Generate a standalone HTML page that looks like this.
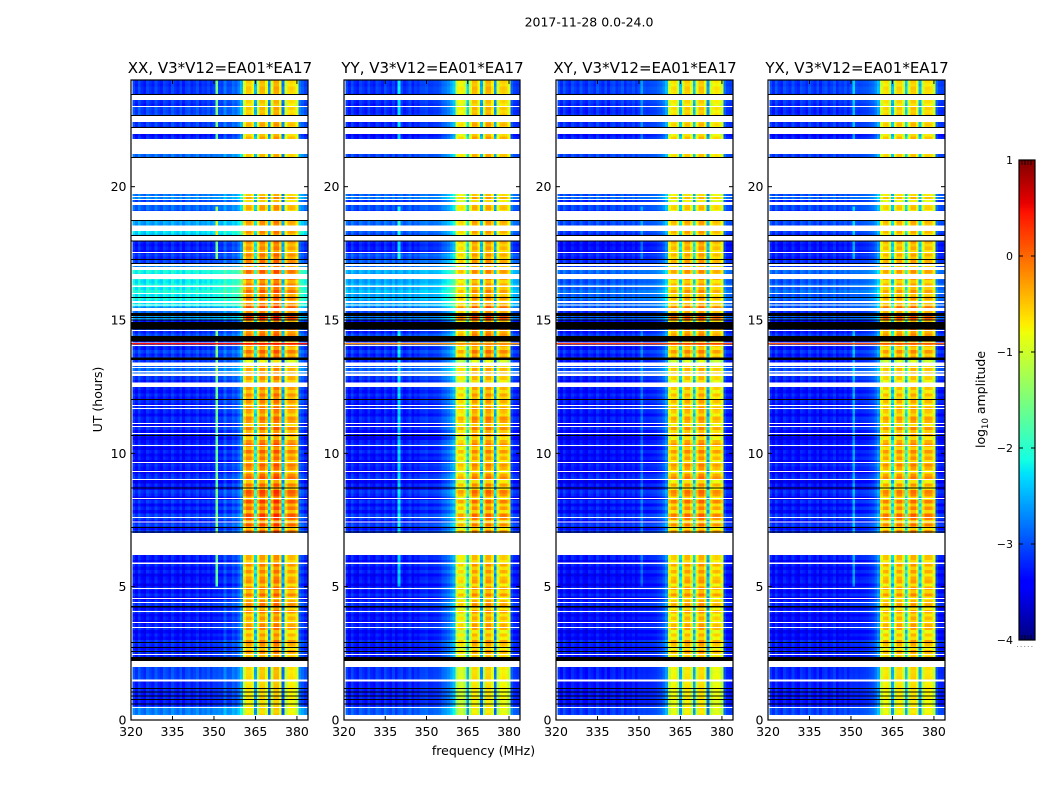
<!DOCTYPE html>
<html lang="en">
<head>
<meta charset="utf-8">
<title>2017-11-28 0.0-24.0</title>
<style>
html,body{margin:0;padding:0;background:#fff;}
svg{display:block;}
text{font-family:"DejaVu Sans","Liberation Sans",sans-serif;fill:#000;}
</style>
</head>
<body>
<svg id="fig" xmlns="http://www.w3.org/2000/svg" width="1050" height="800" viewBox="0 0 1050 800">
  <text x="589" y="26.5" font-size="12.5" text-anchor="middle">2017-11-28 0.0-24.0</text>
  <text x="483.5" y="755" font-size="12.5" text-anchor="middle">frequency (MHz)</text>
  <text transform="translate(102,399.5) rotate(-90)" font-size="12.5" text-anchor="middle">UT (hours)</text>
  <text transform="translate(985,399.5) rotate(-90)" font-size="12.5" text-anchor="middle">log<tspan dy="3" font-size="8.5">10</tspan><tspan dy="-3"> amplitude</tspan></text>
  <g id="panels"></g>
  <g id="colorbar"></g>
  <line x1="1017" y1="646.5" x2="1035" y2="646.5" stroke="#888" stroke-width="1" stroke-dasharray="1 2.6"/>
</svg>
<script>
// ---- Axis data ----
const panelTitles = ["XX, V3*V12=EA01*EA17","YY, V3*V12=EA01*EA17","XY, V3*V12=EA01*EA17","YX, V3*V12=EA01*EA17"];
const xTicks = [320,335,350,365,380];
const yTicks = [0,5,10,15,20];
const colorTicks = [1,0,-1,-2,-3,-4];
const freqRange = [320,384];
const hourRange = [0,24];
const colorRange = [-4,1];
const firstBinMHz = 320.5;
const binCount = 64;
const rowsPerHour = 8;
const levelsPerHour = 2;
const passbandBins = [40,59];
const bandStripeGain = 1.6;
const offBandStripeGain = 0.9;

// ---- Level away from the passband, per half hour from 0 UT (log10 amplitude) ----
const offBandXX = [-2.75,-3.25,-3.2,-3.05,-3.2,-3.25,-3.3,-3.3,-3.25,-3.3,-3.35,-3.3,-3.25,-3.25,-3.2,-3.25,-3.3,-3.3,-3.3,-3.35,-3.35,-3.3,-3.3,-3.25,-3.25,-3.15,-2.95,-3.15,-3.1,-3.15,-2.75,-2.2,-2.15,-2.2,-3.15,-3.25,-2.35,-2.65,-2.95,-2.75,-3.25,-3.25,-2.85,-3.25,-3.15,-3.05,-3.15,-3.15];
const offBandYY = [-2.95,-3.25,-3.25,-3.15,-3.25,-3.3,-3.3,-3.3,-3.25,-3.3,-3.35,-3.3,-3.25,-3.25,-3.2,-3.25,-3.3,-3.3,-3.3,-3.35,-3.3,-3.35,-3.3,-3.3,-3.25,-3.15,-3.0,-3.2,-3.1,-3.2,-2.95,-2.55,-2.5,-2.6,-3.0,-3.25,-3.0,-2.95,-3.05,-2.85,-3.25,-3.25,-3.05,-3.3,-3.25,-3.2,-3.2,-3.15];
const offBandXY = [-3.1,-3.3,-3.3,-3.25,-3.3,-3.3,-3.35,-3.35,-3.3,-3.35,-3.4,-3.35,-3.25,-3.25,-3.25,-3.3,-3.35,-3.35,-3.35,-3.4,-3.4,-3.35,-3.35,-3.3,-3.3,-3.25,-3.1,-3.25,-3.2,-3.25,-3.1,-2.9,-2.9,-2.95,-3.25,-3.35,-3.15,-3.1,-3.1,-2.95,-3.25,-3.25,-3.05,-3.25,-3.2,-3.2,-3.15,-3.1];
const offBandYX = [-3.05,-3.3,-3.25,-3.2,-3.3,-3.3,-3.35,-3.35,-3.3,-3.35,-3.35,-3.35,-3.25,-3.25,-3.25,-3.3,-3.35,-3.35,-3.35,-3.35,-3.4,-3.35,-3.35,-3.3,-3.3,-3.2,-3.1,-3.25,-3.2,-3.25,-3.1,-2.95,-2.9,-2.95,-3.25,-3.3,-3.15,-3.1,-3.1,-2.95,-3.25,-3.25,-3.1,-3.3,-3.2,-3.2,-3.15,-3.1];

// ---- Passband level, per half hour from 0 UT ----
const bandXX = [-.75,-.75,-.7,-.65,-.5,-.45,-.45,-.45,-.4,-.4,-.4,-.4,-.4,-.4,-.25,-.2,-.2,-.25,-.3,-.35,-.3,-.35,-.4,-.4,-.35,-.4,-.55,-.3,-.3,-.2,-.05,-.25,-.2,-.2,-.3,-.35,-.4,-.45,-.5,-.5,-.6,-.6,-.55,-.5,-.55,-.6,-.65,-.6];
const bandYY = [-.9,-.9,-.85,-.8,-.65,-.65,-.65,-.6,-.6,-.6,-.6,-.6,-.6,-.6,-.55,-.5,-.5,-.5,-.55,-.6,-.55,-.5,-.5,-.6,-.55,-.65,-.7,-.45,-.45,-.35,-.25,-.5,-.5,-.5,-.55,-.55,-.6,-.6,-.65,-.6,-.6,-.6,-.55,-.55,-.6,-.65,-.7,-.65];
const bandXY = [-.8,-.8,-.75,-.75,-.6,-.55,-.55,-.55,-.55,-.5,-.5,-.5,-.5,-.5,-.45,-.4,-.4,-.45,-.45,-.5,-.45,-.5,-.55,-.55,-.55,-.6,-.65,-.45,-.45,-.35,-.25,-.5,-.45,-.45,-.5,-.45,-.5,-.55,-.65,-.65,-.6,-.6,-.6,-.6,-.65,-.65,-.7,-.65];
const bandYX = [-.8,-.8,-.75,-.7,-.6,-.6,-.6,-.55,-.6,-.55,-.55,-.55,-.5,-.5,-.45,-.4,-.45,-.5,-.5,-.5,-.5,-.5,-.55,-.6,-.6,-.65,-.7,-.5,-.45,-.35,-.25,-.5,-.5,-.5,-.55,-.55,-.6,-.6,-.7,-.65,-.6,-.6,-.6,-.6,-.65,-.65,-.7,-.7];

// ---- Relative spectral shape per frequency bin ----
const shapeXX = [.1,-.1,.15,-.05,-.15,.1,0,-.1,.12,-.05,-.12,.1,.02,-.1,.14,0,-.1,.1,-.14,.04,.1,-.08,0,.14,-.1,.05,-.02,.1,-.06,.08,.05,.1,.05,.35,.1,.12,.3,.2,.4,.65,
  -.3,.05,.05,-.25,-1.9,-.4,.15,.15,-.25,-2.1,-.35,.25,.25,-.2,-2.2,-.4,-.05,0,-.05,-.35,.35,.2,.05,.1];
const shapeYY = [.1,-.1,.15,-.05,-.15,.1,0,-.1,.12,-.05,-.12,.1,.02,-.1,.14,0,-.1,.1,-.14,.04,.1,-.08,0,.14,-.1,.05,-.02,.1,.1,.15,.05,.05,.1,.1,.15,.3,.35,.45,.6,.8,
  -.4,-.15,-.1,-.4,-1.7,-.3,.2,.2,-.2,-1.9,-.3,.25,.25,-.1,-2.0,-.35,.05,.1,.05,-.3,.25,.05,0,.05];
const shapeXY = [.1,-.1,.15,-.05,-.15,.1,0,-.1,.12,-.05,-.12,.1,.02,-.1,.14,0,-.1,.1,-.14,.04,.1,-.08,0,.14,-.1,.05,-.02,.1,-.06,.08,.05,.08,.05,.08,.1,.12,.18,.25,.4,.65,
  -.35,-.05,0,-.35,-1.8,-.35,.1,.1,-.25,-1.8,-.3,.15,.15,-.2,-2.0,-.4,-.1,-.05,-.1,-.4,.25,.05,0,.05];
const shapeYX = [.1,-.1,.15,-.05,-.15,.1,0,-.1,.12,-.05,-.12,.1,.02,-.1,.14,0,-.1,.1,-.14,.04,.1,-.08,0,.14,-.1,.05,-.02,.1,-.06,.08,.05,.08,.05,.08,.1,.12,.18,.25,.4,.65,
  -.35,0,.05,-.35,-1.8,-.35,.1,.1,-.25,-1.7,-.3,.15,.15,-.2,-1.8,-.35,.05,.05,0,-.35,.25,.05,0,.05];

// ---- Row-to-row amplitude stripes, eight rows per hour from 0 UT ----
const rowStripes = [
  0,.03,-.03,.02,0,-.02,.03,0,-.02,.02,0,-.03,.02,0,-.02,.02,
  .05,-.1,.1,-.05,.12,-.12,.08,.15,-.1,.05,-.15,.12,.1,-.08,.05,-.1,
  .12,-.1,.15,.05,-.12,.18,-.05,.12,-.15,.1,.05,-.12,.1,-.08,.12,-.1,
  0,0,0,0,0,0,0,0,.1,-.15,.2,-.1,.15,.22,-.15,.1,
  -.1,.2,-.15,.12,.22,-.12,.1,-.18,.2,.1,-.15,.05,.18,-.12,.1,-.05,
  .15,-.1,.18,.05,-.15,.12,-.05,.15,-.12,.08,.15,-.1,.05,.12,-.08,.1,
  -.05,.1,-.1,.05,.08,-.1,.05,0,.1,.12,-.1,-.2,.1,-.05,.15,-.1,
  .1,-.12,.05,.1,-.05,.12,.15,-.1,.2,.15,-.1,.12,.05,-.08,.1,-.05,
  .1,-.05,.05,-.1,.08,-.05,.1,.05,-.1,.1,-.05,.08,-.1,.05,-.05,.08,
  .1,-.05,.08,-.1,.05,.1,-.1,.05,-.05,.08,.05,-.1,.08,-.05,.05,.1,
  0,0,0,0,0,0,0,0,0,0,.05,-.05,.08,-.05,.05,-.08,
  .05,-.05,.08,.02,-.05,.05,-.02,.05,-.05,.03,.05,-.03,.02,.05,-.03,.02
];

// ---- Narrow interference lines: bins, gains per panel, and hours they are present ----
const lineBinsXX = [30];
const lineGainsXX = [1.6];
const lineBinsYY = [19];
const lineGainsYY = [.9];
const lineBinsXY = [30];
const lineGainsXY = [.45];
const lineBinsYX = [30];
const lineGainsYX = [.7];
const lineHours = [[4.9,6.2],[7,14.6],[17.2,19.2],[21.5,24]];

// ---- Flagged time ranges (UT hours) ----
const whiteGaps = [[23.25,23.44],[22.99,23.025],[22.425,22.65],[21.975,22.2],[21.225,21.79],[19.725,21.075],[19.61,19.65],[19.5,19.54],[19.31,19.425],[18.75,19.09],[18.34,18.54],[17.98,18.15],[17.51,17.55],[17.025,17.1],[16.875,16.99],[16.54,16.725],[16.24,16.29],[15.975,16.01],[15.64,15.71],[15.54,15.58],[15.34,15.45],[14.59,14.625],[14.13,14.15],[14.04,14.06],[13.275,13.41],[13.2,13.24],[13.03,13.09],[12.9,12.99],[12.48,12.65],[11.78,11.81],[11.66,11.7],[11.1,11.14],[10.99,11.03],[10.73,10.76],[10.28,10.31],[9.64,9.68],[9.3,9.34],[9.0,9.04],[8.29,8.33],[7.58,7.61],[7.41,7.44],[6.19,7.01],[5.85,5.91],[4.91,4.95],[4.54,4.58],[4.39,4.43],[4.05,4.09],[3.64,3.68],[3.45,3.49],[2.44,2.48],[1.99,2.21],[1.44,1.52],[.45,.49],[0,.19]];
const blackLines = [[23.44,23.475],[22.65,22.69],[22.2,22.24],[21.075,21.11],[18.71,18.75],[18.15,18.19],[17.94,17.98],[17.25,17.29],[17.1,17.14],[15.83,15.86],[15.15,15.26],[15.08,15.11],[14.98,15.02],[14.89,14.93],[14.64,14.89],[14.19,14.4],[13.5,13.59],[12.0,12.04],[10.65,10.69],[8.68,8.72],[7.2,7.24],[7.03,7.07],[4.22,4.275],[2.89,2.925],[2.7,2.74],[2.55,2.59],[2.21,2.36],[1.16,1.2],[1.03,1.07],[.88,.92],[.75,.79],[.58,.62]];
const accentHours = [14.09,14.13];
const accentLevels = [.45,-.2,.2,.1];

// ---- Layout ----
const svg = document.getElementById('fig');
const panelsGroup = document.getElementById('panels');
const colorbarGroup = document.getElementById('colorbar');
const NS = 'http://www.w3.org/2000/svg';
const axesBoxes = [{l:131,r:308},{l:344,r:520},{l:556,r:733},{l:768,r:945}];
const plotTop = 80, plotBottom = 720;
const panelSeries = [
  {off:offBandXX,band:bandXX,shape:shapeXX,lineBins:lineBinsXX,lineGains:lineGainsXX},
  {off:offBandYY,band:bandYY,shape:shapeYY,lineBins:lineBinsYY,lineGains:lineGainsYY},
  {off:offBandXY,band:bandXY,shape:shapeXY,lineBins:lineBinsXY,lineGains:lineGainsXY},
  {off:offBandYX,band:bandYX,shape:shapeYX,lineBins:lineBinsYX,lineGains:lineGainsYX}
];

function yScale(h){ return plotBottom - (h-hourRange[0])/(hourRange[1]-hourRange[0])*(plotBottom-plotTop); }
function xScale(box,f){ return box.l + (f-freqRange[0])/(freqRange[1]-freqRange[0])*(box.r-box.l); }
function make(tag, attrs, parent){
  const el = document.createElementNS(NS, tag);
  for (const k in attrs) el.setAttribute(k, attrs[k]);
  parent.appendChild(el);
  return el;
}
function lerp(v,a,b){ return Math.max(0,Math.min(1,(v-a)/(b-a))); }
function jet(t){
  t = Math.max(0,Math.min(1,t));
  let r,g,b;
  r = t<.35?0: t<.66? lerp(t,.35,.66): t<.89?1: 1-.5*lerp(t,.89,1);
  g = t<.125?0: t<.375? lerp(t,.125,.375): t<.64?1: t<.91? 1-lerp(t,.64,.91):0;
  b = t<.11? .5+.5*lerp(t,0,.11): t<.34?1: t<.65? 1-lerp(t,.34,.65):0;
  return 'rgb('+Math.round(r*255)+','+Math.round(g*255)+','+Math.round(b*255)+')';
}
function colorOf(v){ return jet((v-colorRange[0])/(colorRange[1]-colorRange[0])); }
function rowFullyWhite(lo,hi){
  return whiteGaps.some(function(g){ return g[0]<=lo && g[1]>=hi; });
}
function lineActive(h){
  return lineHours.some(function(s){ return h>=s[0] && h<s[1]; });
}

panelTitles.forEach(function(title,p){
  const box = axesBoxes[p], s = panelSeries[p];
  const g = make('g',{},panelsGroup);
  
  
  const clip = make('clipPath',{id:'clip'+p},g);
  make('rect',{x:box.l,y:plotTop,width:box.r-box.l,height:plotBottom-plotTop},clip);
  const cells = make('g',{'clip-path':'url(#clip'+p+')','shape-rendering':'crispEdges'},g);
  
  
  const rowCount = (hourRange[1]-hourRange[0])*rowsPerHour;
  for (let row=0; row<rowCount; row++){
    const lo = row/rowsPerHour, hi = (row+1)/rowsPerHour;
    if (rowFullyWhite(lo,hi)) continue;
    const li = Math.floor(lo*levelsPerHour);
    for (let c=0; c<binCount; c++){
      const inBand = c>=passbandBins[0] && c<=passbandBins[1];
      let v = (inBand ? s.band[li] : s.off[li]) + s.shape[c] + rowStripes[row]*(inBand?bandStripeGain:offBandStripeGain);
      if (lineActive(lo)) {
        const k = s.lineBins.indexOf(c);
        if (k>=0) v += s.lineGains[k];
      }
      const x0 = xScale(box,firstBinMHz+c), x1 = xScale(box,firstBinMHz+c+1);
      const rect = make('rect',{x:x0,y:yScale(hi),width:x1-x0,height:yScale(lo)-yScale(hi),fill:colorOf(v)},cells);
      
      
    }
  }
  const flags = make('g',{'shape-rendering':'crispEdges'},g);
  
  
  whiteGaps.forEach(function(gap){
    const r = make('rect',{x:box.l,y:yScale(gap[1]),width:box.r-box.l,height:Math.max(1,yScale(gap[0])-yScale(gap[1])),fill:'#fff'},flags);
    
    
  });
  blackLines.forEach(function(gap){
    const r = make('rect',{x:box.l,y:yScale(gap[1]),width:box.r-box.l,height:Math.max(1,yScale(gap[0])-yScale(gap[1])),fill:'#000'},flags);
    
    
  });
  const accent = make('rect',{x:box.l,y:yScale(accentHours[1]),width:box.r-box.l,height:Math.max(1,yScale(accentHours[0])-yScale(accentHours[1])),fill:colorOf(accentLevels[p])},flags);
  
  

  const frame = make('rect',{x:box.l,y:plotTop,width:box.r-box.l,height:plotBottom-plotTop,fill:'none',stroke:'#000','stroke-width':1.2},g);
  
  

  const t = make('text',{x:(box.l+box.r)/2+.5,y:73,'font-size':15,'text-anchor':'middle'},g);
  t.textContent = title;
  
  

  xTicks.forEach(function(tick){
    const x = xScale(box,tick);
    const a = make('line',{x1:x,x2:x,y1:plotBottom,y2:plotBottom-4,stroke:'#000','stroke-width':1},g);
    
    
    const b = make('line',{x1:x,x2:x,y1:plotTop,y2:plotTop+4,stroke:'#000','stroke-width':1},g);
    
    
    const l = make('text',{x:x,y:736,'font-size':12.5,'text-anchor':'middle'},g);
    l.textContent = tick;
    
    
  });
  yTicks.forEach(function(tick){
    const y = yScale(tick);
    const a = make('line',{x1:box.l,x2:box.l+4,y1:y,y2:y,stroke:'#000','stroke-width':1},g);
    
    
    const b = make('line',{x1:box.r,x2:box.r-4,y1:y,y2:y,stroke:'#000','stroke-width':1},g);
    
    
    const l = make('text',{x:box.l-4.5,y:y+4.5,'font-size':12.5,'text-anchor':'end'},g);
    l.textContent = tick;
    
    
  });
});

// ---- Colorbar ----
const cbLeft = 1019, cbRight = 1035, cbTop = 160, cbBottom = 640;
function cbY(v){ return cbBottom - (v-colorRange[0])/(colorRange[1]-colorRange[0])*(cbBottom-cbTop); }
const cbSteps = make('g',{'shape-rendering':'crispEdges'},colorbarGroup);


for (let py=cbTop; py<cbBottom; py+=2){
  const v = colorRange[1] - (py-cbTop+1)/(cbBottom-cbTop)*(colorRange[1]-colorRange[0]);
  const r = make('rect',{x:cbLeft,y:py,width:cbRight-cbLeft,height:2,fill:colorOf(v)},cbSteps);
  
  
}
const cbFrame = make('rect',{x:cbLeft,y:cbTop,width:cbRight-cbLeft,height:cbBottom-cbTop,fill:'none',stroke:'#000','stroke-width':1.2},colorbarGroup);


colorTicks.forEach(function(tick){
  const y = cbY(tick);
  const a = make('line',{x1:cbLeft,x2:cbLeft+4,y1:y,y2:y,stroke:'#000','stroke-width':1},colorbarGroup);
  
  
  const b = make('line',{x1:cbRight,x2:cbRight-4,y1:y,y2:y,stroke:'#000','stroke-width':1},colorbarGroup);
  
  
  const l = make('text',{x:cbLeft-6,y:y+4,'font-size':11,'text-anchor':'end'},colorbarGroup);
  l.textContent = tick<0 ? '\u2212'+Math.abs(tick) : String(tick);
  
  
});
[1022,1025,1028,1031].forEach(function(x){
  const a = make('line',{x1:x,x2:x,y1:cbTop,y2:cbTop+5,stroke:'#000','stroke-width':.8},colorbarGroup);
  
  
  const b = make('line',{x1:x,x2:x,y1:cbBottom,y2:cbBottom-5,stroke:'#000','stroke-width':.8},colorbarGroup);
  
  
});
</script>
</body>
</html>
